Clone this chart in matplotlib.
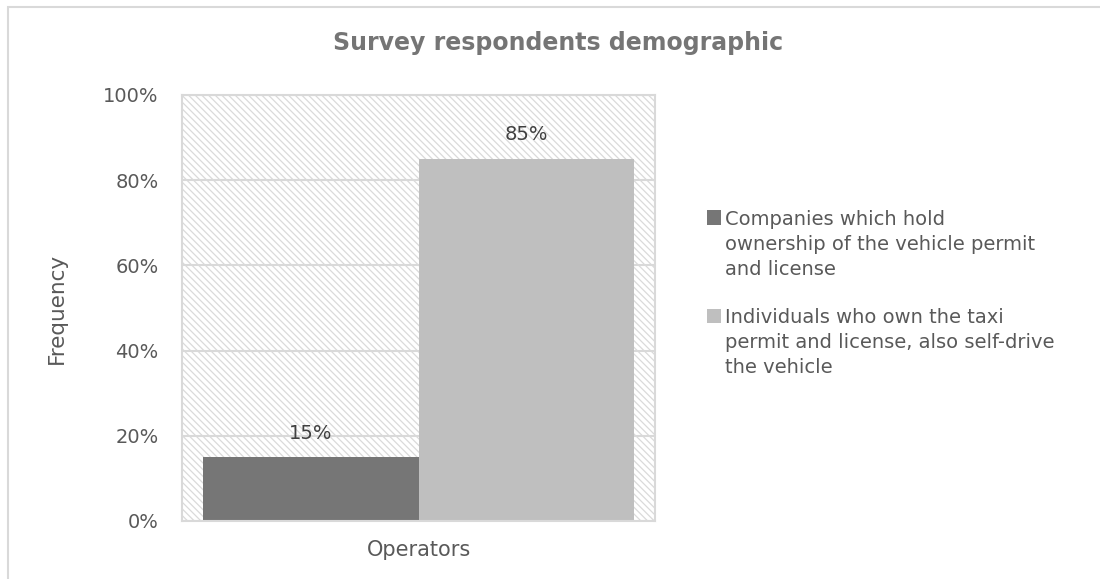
import matplotlib
matplotlib.use("Agg")
import matplotlib.pyplot as plt
from matplotlib.patches import Rectangle
from matplotlib.legend_handler import HandlerPatch
from matplotlib.ticker import FuncFormatter

# Data
category = "Operators"
series_labels = [
    "Companies which hold\nownership of the vehicle permit\nand license",
    "Individuals who own the taxi\npermit and license, also self-drive\nthe vehicle",
]
values = [15, 85]
colors = ["#767676", "#bfbfbf"]
yticks = [0, 20, 40, 60, 80, 100]

plt.rcParams['font.family'] = ['DejaVu Sans']
plt.rcParams['hatch.linewidth'] = 0.9

LINESPACING = 1.4


class TopSquareHandler(HandlerPatch):
    """Square legend marker aligned with the first line of a multi-line label."""
    def create_artists(self, legend, orig_handle, xdescent, ydescent, width, height,
                       fontsize, trans):
        nlines = 3
        shift = (nlines - 1) / 2 * fontsize * LINESPACING
        p = Rectangle((-xdescent, -ydescent + shift), width, height,
                      facecolor=orig_handle.get_facecolor(), edgecolor="none",
                      transform=trans)
        return [p]


fig = plt.figure(figsize=(11, 5.79), dpi=100)
ax = fig.add_axes([182/1100, 1-521/579, (655-182)/1100, (521-95)/579])

# outer chart border
fig.patches.append(Rectangle((8/1100, -0.01), 1.2, 1-7/579+0.01, transform=fig.transFigure,
                             fill=False, edgecolor="#d9d9d9", linewidth=1.5, zorder=0))

# hatched plot background
ax.add_patch(Rectangle((0, 0), 1, 1, transform=ax.transAxes, facecolor="white",
                       edgecolor="#dadada", hatch="\\\\\\\\\\", linewidth=0, zorder=0.1))

w = 0.911 / 2
xs = [-w/2, w/2]
handles = []
for x, v, c, lab in zip(xs, values, colors, series_labels):
    b = ax.bar(x, v, width=w, color=c, label=lab, zorder=2)
    handles.append(b.patches[0])
    ax.annotate(f"{v}%", (x, v), xytext=(0, 10.5), textcoords="offset points",
                ha="center", va="bottom", fontsize=14, color="#404040")

ax.set_xlim(-0.5, 0.5)
ax.set_ylim(0, 100)
ax.set_yticks(yticks)
ax.yaxis.set_major_formatter(FuncFormatter(lambda v, p: f"{int(v)}%"))
ax.set_xticks([0])
ax.set_xticklabels([category])
ax.tick_params(axis="y", length=0, labelsize=14, labelcolor="#595959", pad=17)
ax.tick_params(axis="x", length=0, labelsize=15, labelcolor="#595959", pad=14)
ax.set_axisbelow(True)
ax.grid(axis="y", color="#d9d9d9", linewidth=1.5, zorder=0.5)
for s in ax.spines.values():
    s.set_color("#d9d9d9")
    s.set_linewidth(1.5)
ax.set_ylabel("Frequency", fontsize=15.5, color="#595959", labelpad=26)

fig.text(558/1100, 1-43/579, "Survey respondents demographic", ha="center", va="center",
         fontsize=17, fontweight="bold", color="#757575")

leg = fig.legend(handles, series_labels, loc="upper left",
                 bbox_to_anchor=(689/1100, 1-192/579), frameon=False,
                 fontsize=14, labelcolor="#595959", handlelength=0.75, handleheight=0.75,
                 handletextpad=0.2, labelspacing=1.5,
                 handler_map={Rectangle: TopSquareHandler()})
for t in leg.get_texts():
    t.set_linespacing(LINESPACING)

fig.savefig("out.png", dpi=100)
